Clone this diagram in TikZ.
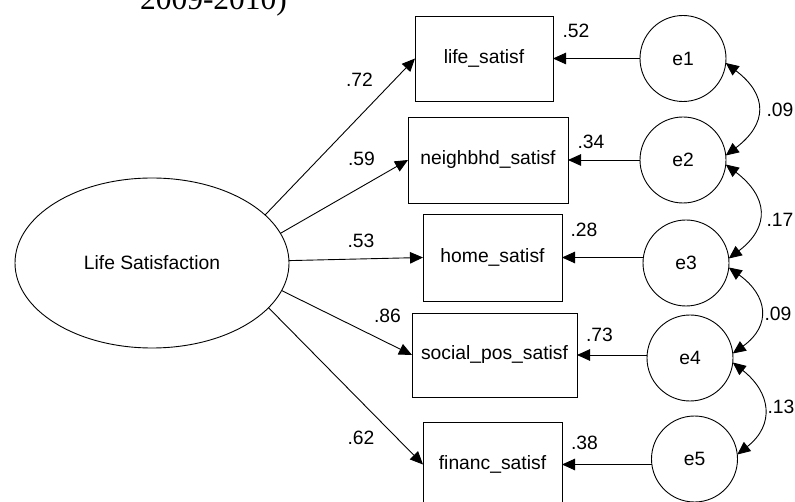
\documentclass[tikz,border=0pt]{standalone}
\usepackage{fontspec}
\setmainfont{Liberation Sans}
\newfontfamily\captionserif{Liberation Serif}
\usetikzlibrary{shapes.geometric,arrows.meta}

\tikzset{
  every node/.style={inner sep=0pt, outer sep=0pt, font=\fontsize{19.3}{23}\selectfont},
  obsbox/.style={draw, rectangle, line width=0.9pt, text height=13.5pt, text depth=4pt},
  errcirc/.style={draw, circle, minimum size=86pt, line width=0.9pt, text height=13.5pt, text depth=0pt},
  latent/.style={draw, ellipse, minimum width=274pt, minimum height=170pt, line width=0.9pt},
  arr/.style={line width=0.9pt, -{Triangle[length=13pt,width=11.5pt]}},
  cov/.style={line width=0.9pt, {Triangle[length=13pt,width=11.5pt]}-{Triangle[length=13pt,width=11.5pt]}},
  coef/.style={}
}

\begin{document}
\begin{tikzpicture}[x=1pt, y=-1pt]
\useasboundingbox (0,0) rectangle (795,502);

% trailing caption line from the text above
\node[anchor=base west, font=\captionserif\fontsize{31.5}{36}\selectfont] (cap) at (140,10) {2009-2010)};

% latent factor
\node[latent] (LS) at (152,263) {Life Satisfaction};

% observed indicators
\node[obsbox, minimum width=138pt, minimum height=85pt] (life)   at (484,58.5)  {life\_satisf};
\node[obsbox, minimum width=160pt, minimum height=86pt] (neigh)  at (488,160)   {neighbhd\_satisf};
\node[obsbox, minimum width=139pt, minimum height=87pt] (home)   at (492.5,257.5) {home\_satisf};
\node[obsbox, minimum width=165pt, minimum height=84pt] (social) at (494.5,355) {social\_pos\_satisf};
\node[obsbox, minimum width=139pt, minimum height=85pt] (financ) at (492.5,464.5) {financ\_satisf};

% error terms
\node[errcirc] (e1) at (683,58.5)  {e1};
\node[errcirc] (e2) at (683,160)   {e2};
\node[errcirc] (e3) at (686,263)   {e3};
\node[errcirc] (e4) at (690,358)   {e4};
\node[errcirc] (e5) at (694.5,459) {e5};

% factor loadings
\draw[arr] (LS.23)    -- (life.west);
\draw[arr] (LS.13)    -- (neigh.west);
\draw[arr] (LS.1)     -- (home.west);
\draw[arr] (LS.-12.5) -- (social.west);
\draw[arr] (LS.-21.5) -- (financ.west);

% error paths
\draw[arr] (e1.west |- life.east)   -- (life.east);
\draw[arr] (e2.west |- neigh.east)  -- (neigh.east);
\draw[arr] (e3.west |- home.east)   -- (home.east);
\draw[arr] (e4.west |- social.east) -- (social.east);
\draw[arr] (e5.west |- financ.east) -- (financ.east);

% error covariances
\draw[cov] (e1.-6) .. controls +(42,32) and +(42,-32) .. (e2.6);
\draw[cov] (e2.-6) .. controls +(42,32) and +(42,-32) .. (e3.6);
\draw[cov] (e3.-6) .. controls +(39,28) and +(39,-28) .. (e4.6);
\draw[cov] (e4.-6) .. controls +(38,30) and +(38,-30) .. (e5.6);

% standardized loadings
\node[coef] (l1) at (359.5,80)  {.72};
\node[coef] (l2) at (361.5,159) {.59};
\node[coef] (l3) at (361,240.5) {.53};
\node[coef] (l4) at (387.5,315.5) {.86};
\node[coef] (l5) at (361,438)   {.62};

% squared multiple correlations
\node[coef] (r1) at (576,30.5)  {.52};
\node[coef] (r2) at (591,141.5) {.34};
\node[coef] (r3) at (584,230)   {.28};
\node[coef] (r4) at (599.5,335) {.73};
\node[coef] (r5) at (584.5,443) {.38};

% correlations between errors
\node[coef] (c12) at (780,110)   {.09};
\node[coef] (c23) at (780,220)   {.17};
\node[coef] (c34) at (778,314)   {.09};
\node[coef] (c45) at (781,406.5) {.13};
\end{tikzpicture}
\end{document}
